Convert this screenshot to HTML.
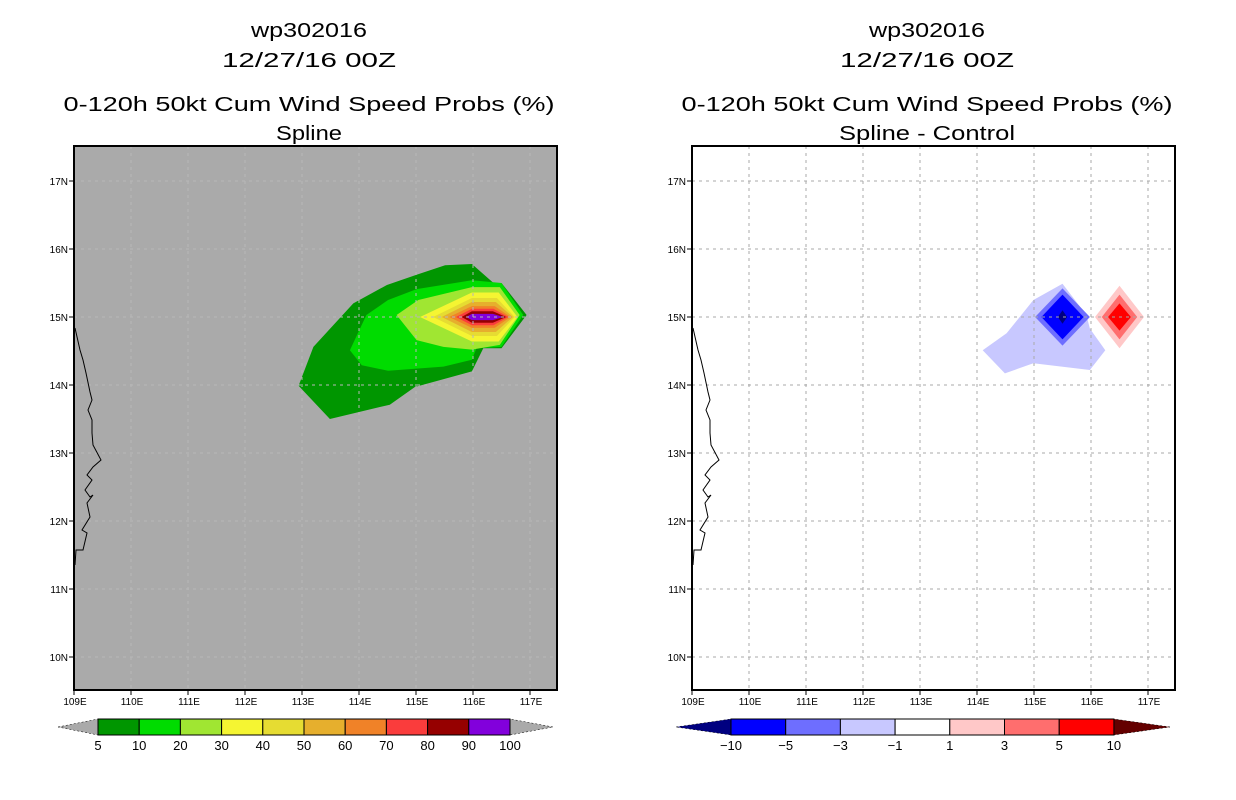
<!DOCTYPE html>
<html><head><meta charset="utf-8"><style>
html,body{margin:0;padding:0;background:#fff;width:1236px;height:800px;overflow:hidden}
svg{display:block}
text{font-family:"Liberation Sans",sans-serif;fill:#000}
</style></head>
<body>
<svg id="chart" width="1236" height="800" viewBox="0 0 1236 800" xmlns="http://www.w3.org/2000/svg">
</svg>
<script>
// ---- data ----
const lonTicks = [109,110,111,112,113,114,115,116,117];
const latTicks = [10,11,12,13,14,15,16,17];
const lonTickLabels = ["109E","110E","111E","112E","113E","114E","115E","116E","117E"];
const latTickLabels = ["10N","11N","12N","13N","14N","15N","16N","17N"];
const leftLevels = ["5","10","20","30","40","50","60","70","80","90","100"];
const leftColors = ["#009600","#00dc00","#a0e632","#f5f532","#e6dc32","#e6af2d","#f08228","#fa3c3c","#960000","#8200dc"];
const rightLevels = ["-10","-5","-3","-1","1","3","5","10"];
const rightColors = ["#0000ff","#6e6eff","#c8c8ff","#ffffff","#ffc8c8","#ff6e6e","#ff0000"];
// probability contour polygons [lon,lat]
const prob5 = [[115.51,15.76],[115.98,15.78],[116.36,15.50],[116.50,15.50],[116.94,15.03],[116.50,14.54],[116.18,14.54],[115.98,14.20],[114.98,13.97],[114.54,13.71],[113.49,13.50],[112.94,13.99],[113.20,14.56],[113.90,15.20],[114.49,15.47],[115.01,15.62]];
const prob10 = [[115.01,15.41],[115.98,15.54],[116.50,15.50],[116.88,15.03],[116.50,14.56],[116.06,14.54],[115.98,14.37],[115.48,14.27],[114.51,14.21],[114.05,14.29],[113.84,14.51],[114.13,15.03],[114.51,15.25]];
const prob20 = [[114.66,15.03],[115.04,15.25],[115.98,15.44],[116.47,15.44],[116.82,15.03],[116.47,14.59],[115.98,14.52],[115.48,14.56],[115.01,14.66]];
// inner bands: [west tip, shoulder1, shoulder2, east tip, half-height]
const probInner = [
 [115.07,115.98,116.45,116.78,0.36],
 [115.30,115.98,116.42,116.73,0.28],
 [115.45,115.98,116.40,116.70,0.22],
 [115.58,115.98,116.38,116.66,0.16],
 [115.70,115.98,116.36,116.62,0.12],
 [115.80,115.98,116.35,116.58,0.085],
 [115.88,115.98,116.35,116.53,0.045]];
const diffNeg1 = [[114.10,14.51],[114.52,14.76],[114.99,15.25],[115.50,15.49],[115.92,15.03],[115.98,14.83],[116.25,14.51],[115.98,14.22],[114.99,14.32],[114.49,14.17]];
// diamonds: [center lon, center lat, half lon, half lat, color index]
const diffDiamonds = [
 [115.5,15.0,0.48,0.42,1],[115.5,15.0,0.37,0.33,0],
 [116.5,15.0,0.43,0.46,4],[116.5,15.0,0.31,0.33,5],[116.5,15.0,0.20,0.20,6]];
const diffCore = [115.5,15.0,0.08,0.10];
// coastline pixel offsets from plot origin (map outline)
const coast = [[1,182],[6,204],[9,214],[12,227],[16,246],[18,254],[14,264],[18,274],[18,287],[19,299],[27,314],[19,321],[13,329],[18,334],[11,344],[16,351],[19,349],[13,357],[16,371],[8,384],[13,387],[9,404],[2,404],[1,419]];

const NS='http://www.w3.org/2000/svg';
const svg=document.getElementById('chart');
function mk(tag,attrs,parent){const e=document.createElementNS(NS,tag);for(const k in attrs)e.setAttribute(k,attrs[k]);(parent||svg).appendChild(e);return e;}
function xs(ox,lon){return ox+(lon-109)*57;}
function ys(lat){return 317-(lat-15)*68;}
function pts(ox,arr){return arr.map(p=>xs(ox,p[0]).toFixed(1)+','+ys(p[1]).toFixed(1)).join(' ');}

function panel(ox,bg,sub,key){
  const g=mk('g',{});
  
  
  const cx=ox+235;
  const titles=[["wp302016",37,116],["12/27/16 00Z",67,174],["0-120h 50kt Cum Wind Speed Probs (%)",111,491],[sub,140,sub.length*11]];
  titles.forEach((t,i)=>{const e=mk('text',{x:cx,y:t[1],'text-anchor':'middle','font-size':20,textLength:t[2],lengthAdjust:'spacingAndGlyphs'},g);e.textContent=t[0];
    
    });
  const bgr=mk('rect',{x:ox,y:146,width:483,height:544,fill:bg},g);
  
  
  return g;
}
function grid(ox,g,col){
  lonTicks.forEach(l=>{if(l===109)return;mk('line',{x1:xs(ox,l),x2:xs(ox,l),y1:146,y2:690,stroke:col,'stroke-width':1,'stroke-dasharray':'3,4'},g);});
  latTicks.forEach(l=>{mk('line',{x1:ox,x2:ox+483,y1:ys(l),y2:ys(l),stroke:col,'stroke-width':1,'stroke-dasharray':'3,4'},g);});
}
function axes(ox,g,key){
  mk('rect',{x:ox,y:146,width:483,height:544,fill:'none',stroke:'#000','stroke-width':2},g);
  lonTicks.forEach((l,i)=>{const x=xs(ox,l);mk('line',{x1:x,x2:x,y1:690,y2:695,stroke:'#000'},g);
    const t=mk('text',{x:x+1,y:705,'text-anchor':'middle','font-size':10},g);t.textContent=lonTickLabels[i];
    
    });
  latTicks.forEach((l,i)=>{const y=ys(l);mk('line',{x1:ox-5,x2:ox,y1:y,y2:y,stroke:'#000'},g);
    const t=mk('text',{x:ox-6,y:y+4,'text-anchor':'end','font-size':10},g);t.textContent=latTickLabels[i];
    
    });
}
function coastline(ox,g,key){
  const p=mk('polyline',{points:coast.map(c=>(ox+c[0])+','+(146+c[1])).join(' '),fill:'none',stroke:'#000','stroke-width':1},g);
  
  
}

// LEFT
const L=74;
const gl=panel(L,'#aaaaaa','Spline','left');
[[prob5,0],[prob10,1],[prob20,2]].forEach(([poly,ci])=>{const p=mk('polygon',{points:pts(L,poly),fill:leftColors[ci]},gl);
  
  });
probInner.forEach((b,i)=>{const poly=[[b[0],15],[b[1],15+b[4]],[b[2],15+b[4]],[b[3],15],[b[2],15-b[4]],[b[1],15-b[4]]];
  const p=mk('polygon',{points:pts(L,poly),fill:leftColors[i+3]},gl);
  
  });
grid(L,gl,'#b8b8b8');
coastline(L,gl,'left');
axes(L,gl,'left');

// RIGHT
const R=692;
const gr=panel(R,'#ffffff','Spline - Control','right');
const pn=mk('polygon',{points:pts(R,diffNeg1),fill:rightColors[2]},gr);


diffDiamonds.forEach(d=>{const poly=[[d[0]-d[2],d[1]],[d[0],d[1]+d[3]],[d[0]+d[2],d[1]],[d[0],d[1]-d[3]]];
  const p=mk('polygon',{points:pts(R,poly),fill:rightColors[d[4]]},gr);
  
  });
{const d=diffCore;const p=mk('polygon',{points:pts(R,[[d[0]-d[2],d[1]],[d[0],d[1]+d[3]],[d[0]+d[2],d[1]],[d[0],d[1]-d[3]]]),fill:'#000080'},gr);
  
  }
grid(R,gr,'#aaaaaa');
coastline(R,gr,'right');
axes(R,gr,'right');

// COLORBARS
function colorbar(x0,tipL,tipR,w,colors,labels,leftTip,rightTip,key){
  const g=mk('g',{});
  
  
  const y0=719,y1=735,ym=727;
  const n=colors.length, x1=x0+n*w;
  mk('polygon',{points:`${tipL},${ym} ${x0},${y0} ${x0},${y1}`,fill:leftTip,stroke:'#000','stroke-width':0.5,'stroke-dasharray':'2,2'},g);
  mk('polygon',{points:`${tipR},${ym} ${x1},${y0} ${x1},${y1}`,fill:rightTip,stroke:'#000','stroke-width':0.5,'stroke-dasharray':'2,2'},g);
  colors.forEach((c,i)=>{const r=mk('rect',{x:x0+i*w,y:y0,width:w,height:y1-y0,fill:c,stroke:'#000','stroke-width':1},g);
    
    });
  labels.forEach((l,i)=>{const t=mk('text',{x:x0+i*w,y:750,'text-anchor':'middle','font-size':13},g);t.textContent=l.replace('-','\u2212');
    
    });
}
colorbar(98,58,553,41.2,leftColors,leftLevels,'#aaaaaa','#aaaaaa','left');
colorbar(731,676,1170,54.7,rightColors,rightLevels,'#000080','#640000','right');
</script>
</body></html>
